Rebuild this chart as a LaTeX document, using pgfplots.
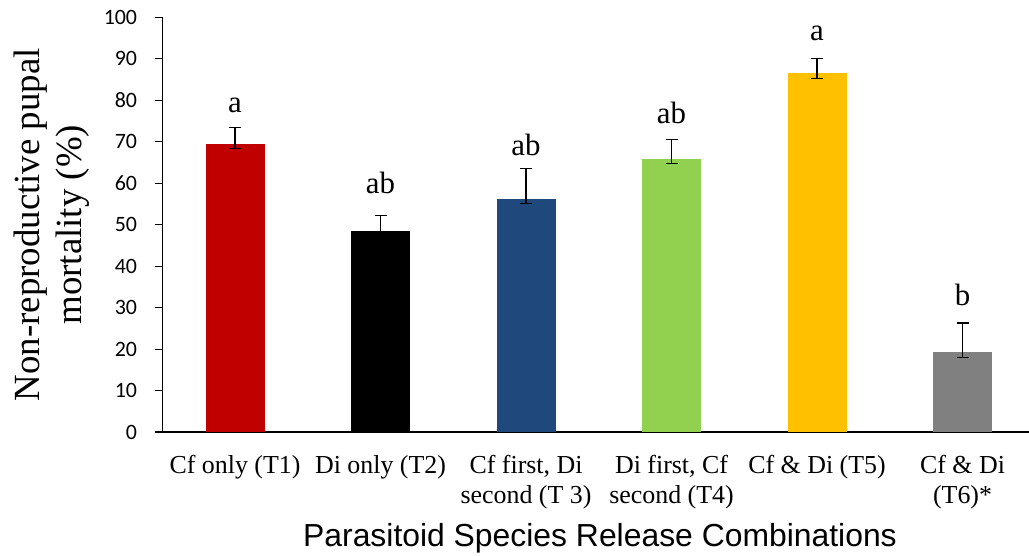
\documentclass[border=0pt]{standalone}
\usepackage{pgfplots}
\pgfplotsset{compat=1.18}
\usepackage{fontspec}
\setmainfont{Liberation Serif}
\newfontfamily\carlito{Carlito}
\newfontfamily\arialf{Liberation Sans}
\definecolor{cRed}{HTML}{C00000}
\definecolor{cBlue}{HTML}{1F497D}
\definecolor{cGreen}{HTML}{92D050}
\definecolor{cYellow}{HTML}{FFC000}
\definecolor{cGray}{HTML}{808080}
\pgfplotsset{
  mybar/.style={ybar, bar width=59bp, bar shift=0pt, draw=none,
    error bars/y dir=both, error bars/y explicit,
    error bars/error bar style={line width=1.3bp, black},
    error bars/error mark=|,
    error bars/error mark options={line width=1.3bp, black, mark size=6bp}},
}
\begin{document}
\begin{tikzpicture}
\path[use as bounding box] (0,0) rectangle (1029bp,556bp);
\begin{axis}[
  at={(162.3bp,124bp)}, anchor=south west,
  scale only axis, width=866.7bp, height=414.5bp,
  xmin=-0.5, xmax=5.4567, ymin=0, ymax=100,
  axis x line=bottom, axis y line=left,
  axis line style={-, line width=1.1bp, black},
  xtick={0,1,2,3,4,5},
  xticklabels={{Cf only (T1)},{Di only (T2)},{Cf first, Di\\second (T 3)},{Di first, Cf\\second (T4)},{Cf \& Di (T5)},{Cf \& Di\\(T6)*}},
  xtick style={draw=none},
  xticklabel style={align=center, font=\fontsize{26}{30}\selectfont, inner sep=0pt, anchor=north, yshift=-16bp},
  ytick={0,10,...,100},
  tick align=outside, major tick length=7bp,
  ytick style={line width=1.1bp, black},
  /pgf/number format/assume math mode=true,
  yticklabel style={font=\carlito\fontsize{22}{22}\selectfont, inner sep=0pt, anchor=east, xshift=-18bp},
  ylabel={Non-reproductive pupal\\mortality (\%)},
  ylabel style={at={(axis description cs:-0.1711,0.5)}, anchor=north, rotate=0, align=center, inner sep=0pt, font=\fontsize{37}{42}\selectfont},
  xlabel={Parasitoid Species Release Combinations},
  xlabel style={at={(axis description cs:0.505,-0.2767)}, anchor=base, inner sep=0pt, font=\arialf\fontsize{32}{32}\selectfont},
  clip=false,
]
\addplot[mybar, fill=cRed] coordinates {(0,69.6) += (0,3.8) -= (0,1.2)};
\addplot[mybar, fill=black] coordinates {(1,48.6) += (0,3.7) -= (0,1.2)};
\addplot[mybar, fill=cBlue] coordinates {(2,56.3) += (0,7.3) -= (0,1.2)};
\addplot[mybar, fill=cGreen] coordinates {(3,65.9) += (0,4.6) -= (0,1.2)};
\addplot[mybar, fill=cYellow] coordinates {(4,86.5) += (0,3.6) -= (0,1.2)};
\addplot[mybar, fill=cGray] coordinates {(5,19.2) += (0,7.1) -= (0,1.3)};
\addplot[draw=none, mark=none, nodes near coords, point meta=explicit symbolic,
  nodes near coords style={anchor=base, inner sep=0pt, font=\fontsize{31}{31}\selectfont, black}]
  coordinates {(0,77.1)[a] (1,57.6)[ab] (2,66.8)[ab] (3,74.5)[ab] (4,94.4)[a] (5,30.6)[b]};
\end{axis}
\end{tikzpicture}
\end{document}
